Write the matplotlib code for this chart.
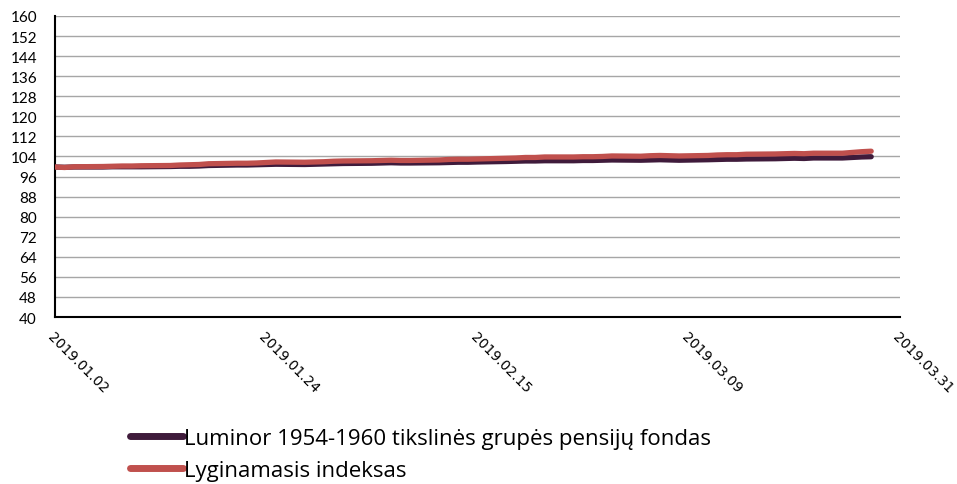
import matplotlib
matplotlib.use("Agg")
import matplotlib.pyplot as plt
import matplotlib.dates as mdates
import pandas as pd
import numpy as np

dates = pd.bdate_range("2019-01-02", "2019-03-28")

fund = [
    99.8, 99.7, 99.8, 99.8, 99.9, 99.9, 99.9, 99.9, 100.0, 100.1, 100.1, 100.2, 100.4, 100.6, 100.6, 100.7, 100.8, 100.9, 100.8, 100.9, 101.0, 101.1,
    101.2, 101.3, 101.4, 101.5, 101.4, 101.4, 101.5, 101.6, 101.7, 101.7, 101.8, 102.0, 102.1, 102.2, 102.2, 102.3, 102.3, 102.4, 102.4, 102.5,
    102.6, 102.5, 102.6, 102.7, 102.6, 102.5, 102.7, 102.8, 102.9, 102.9, 103.0, 103.1, 103.2, 103.3, 103.2, 103.4, 103.4, 103.6, 103.8, 103.9,
]
index = [
    99.8, 99.6, 99.9, 100.0, 100.1, 100.2, 100.2, 100.3, 100.4, 100.6, 100.7, 100.8, 101.1, 101.3, 101.3, 101.4, 101.6, 101.8, 101.7, 101.8, 101.9, 102.1,
    102.2, 102.3, 102.4, 102.5, 102.4, 102.4, 102.6, 102.8, 102.9, 102.9, 103.0, 103.3, 103.4, 103.6, 103.6, 103.8, 103.8, 103.9, 103.9, 104.0,
    104.2, 104.1, 104.3, 104.4, 104.3, 104.2, 104.4, 104.6, 104.7, 104.7, 104.9, 105.0, 105.1, 105.2, 105.1, 105.3, 105.3, 105.6, 105.9, 106.1,
]
labels = ["Luminor 1954-1960 tikslinės grupės pensijų fondas", "Lyginamasis indeksas"]
tick_dates = ["2019-01-02", "2019-01-24", "2019-02-15", "2019-03-09", "2019-03-31"]
yticks = list(range(40, 161, 8))

fig = plt.figure(figsize=(9.57, 4.85), dpi=100)
ax = fig.add_axes([55/957, 1-318/485, (900-55)/957, (318-17)/485])

ax.plot(dates, fund, color="#3F1B3B", lw=3.8, solid_capstyle="round", label=labels[0], zorder=3)
ax.plot(dates, index, color="#C0504D", lw=3.8, solid_capstyle="round", label=labels[1], zorder=4)

ax.set_ylim(40, 160)
ax.set_yticks(yticks)
ax.set_xlim(pd.Timestamp(tick_dates[0]), pd.Timestamp(tick_dates[-1]))
ax.set_xticks([pd.Timestamp(d) for d in tick_dates])
ax.xaxis.set_major_formatter(mdates.DateFormatter("%Y.%m.%d"))
ax.grid(axis="y", color="#A6A6A6", lw=1)
ax.set_axisbelow(True)
for s in ["top", "right"]:
    ax.spines[s].set_visible(False)
for s in ["left", "bottom"]:
    ax.spines[s].set_color("black")
    ax.spines[s].set_linewidth(1.5)
ax.tick_params(axis="y", length=0, pad=13, labelsize=11)
ax.tick_params(axis="x", length=0, pad=9, labelsize=10)
for t in ax.get_yticklabels():
    t.set_fontfamily("Lato")
for t in ax.get_xticklabels():
    t.set_rotation(-45)
    t.set_ha("left")
    t.set_va("top")
    t.set_rotation_mode("anchor")
    t.set_fontfamily("DejaVu Sans")

leg = fig.legend(loc="upper left", bbox_to_anchor=(130/957, 1-429/485), frameon=False,
                 borderaxespad=0, borderpad=0,
                 handlelength=2.4, handletextpad=0.05, labelspacing=0.5,
                 prop={"family": "Open Sans", "size": 16})
for l in leg.get_lines():
    l.set_linewidth(5)

fig.savefig("out.png", dpi=100)
